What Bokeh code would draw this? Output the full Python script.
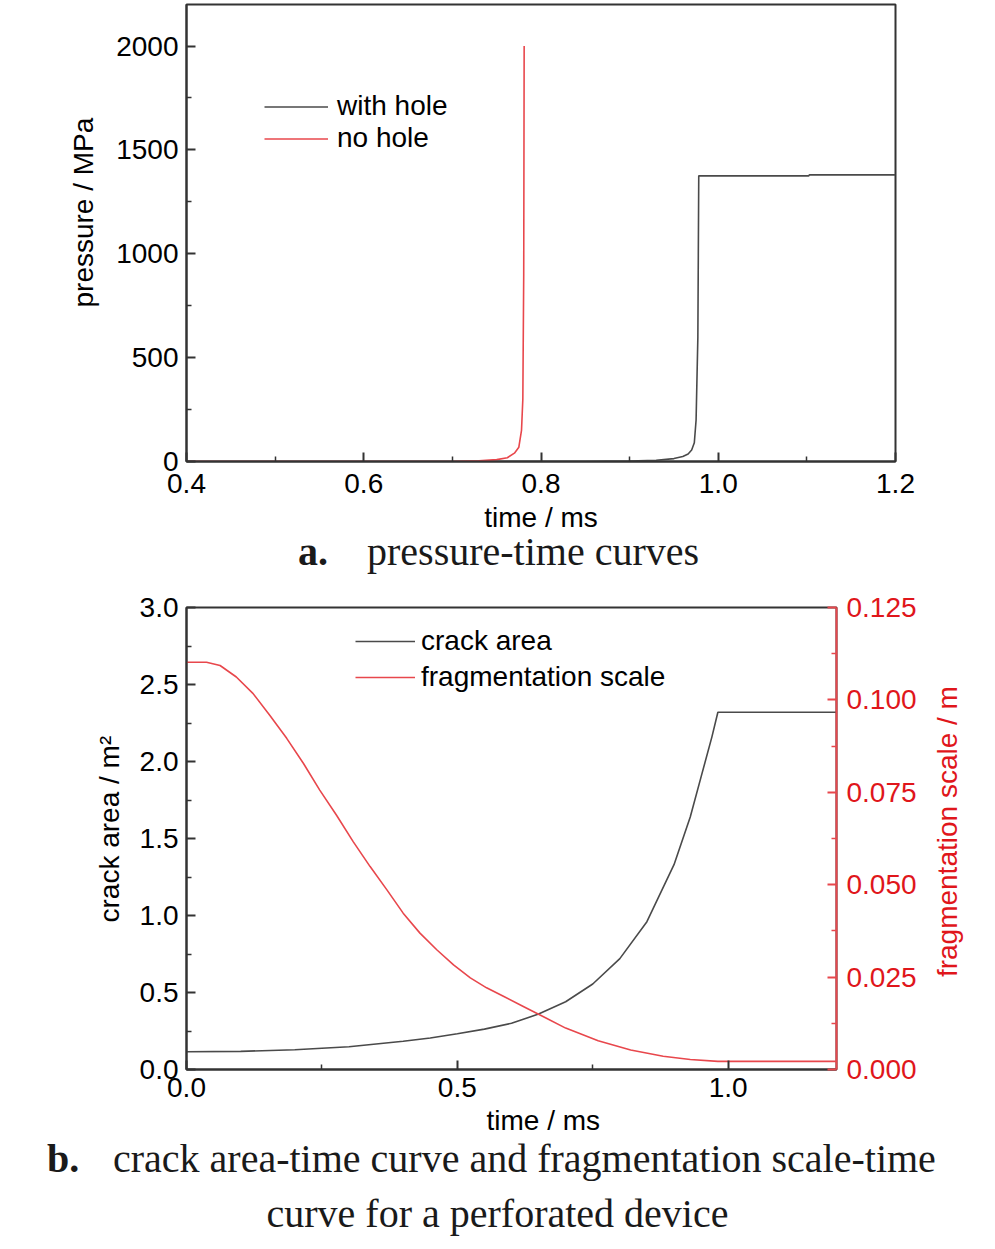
import math
from bokeh.plotting import figure
from bokeh.models import (Range1d, LinearAxis, Legend, LegendItem, Title, Div,
                          FixedTicker, NumeralTickFormatter)
from bokeh.embed import file_html
from bokeh.resources import INLINE

# ---------------- data: chart a (pressure-time) ----------------
t_with = [0.40, 0.85, 0.90, 0.93, 0.95, 0.96, 0.966, 0.970, 0.973, 0.975,
          0.977, 0.978, 1.102, 1.103, 1.20]
p_with = [0, 0, 2, 6, 14, 24, 36, 55, 90, 200, 600, 1375, 1375, 1380, 1380]

t_no = [0.40, 0.70, 0.73, 0.75, 0.762, 0.770, 0.775, 0.778, 0.7795, 0.7805, 0.781]
p_no = [0, 0, 3, 9, 18, 40, 69, 150, 300, 900, 2000]

a_xticks = [0.4, 0.6, 0.8, 1.0, 1.2]
a_xminor = [0.5, 0.7, 0.9, 1.1]
a_yticks = [0, 500, 1000, 1500, 2000]
a_yminor = [250, 750, 1250, 1750]

# ---------------- data: chart b (crack area / fragmentation) ----------------
t_crack = [0, 0.1, 0.2, 0.3, 0.4, 0.45, 0.5, 0.55, 0.6, 0.65, 0.7, 0.75, 0.8,
           0.85, 0.9, 0.93, 0.95, 0.97, 0.981, 1.2]
a_crack = [0.115, 0.118, 0.128, 0.148, 0.183, 0.205, 0.232, 0.262, 0.30, 0.36,
           0.44, 0.555, 0.72, 0.96, 1.33, 1.64, 1.90, 2.16, 2.32, 2.32]

t_frag = [0, 0.037, 0.062, 0.092, 0.123, 0.154, 0.185, 0.216, 0.246, 0.277,
          0.308, 0.339, 0.370, 0.400, 0.431, 0.462, 0.493, 0.524, 0.554, 0.585,
          0.62, 0.66, 0.70, 0.76, 0.82, 0.88, 0.93, 0.981, 1.2]
f_frag = [0.1102, 0.1102, 0.1093, 0.1062, 0.1017, 0.0958, 0.0896, 0.0828,
          0.0756, 0.0688, 0.0616, 0.0549, 0.0486, 0.0423, 0.0369, 0.0324,
          0.0283, 0.0248, 0.0221, 0.0198, 0.0172, 0.0142, 0.0112, 0.0078,
          0.0053, 0.0036, 0.0027, 0.0022, 0.0022]

b_xticks = [0.0, 0.5, 1.0]
b_xminor = [0.25, 0.75]
b_yticks = [0.0, 0.5, 1.0, 1.5, 2.0, 2.5, 3.0]
b_yminor = [0.25, 0.75, 1.25, 1.75, 2.25, 2.75]
b_rticks = [0.0, 0.025, 0.05, 0.075, 0.1, 0.125]
b_rminor = [0.0125, 0.0375, 0.0625, 0.0875, 0.1125]
r_title_tick = 0.025   # where the right-hand title text begins

FONT = "Liberation Sans"
FS = "28px"
DARK = "#333333"
GRAYLINE = "#4a4a4a"
REDLINE = "#e8474c"
REDTEXT = "#e0161b"


def style_axis(ax, color=DARK, label_color="black", standoff=8):
    ax.axis_line_color = color
    ax.axis_line_width = 2
    ax.major_tick_line_color = color
    ax.minor_tick_line_color = color
    ax.major_tick_line_width = 2
    ax.minor_tick_line_width = 1.5
    ax.major_tick_in = 9
    ax.major_tick_out = 0
    ax.minor_tick_in = 5
    ax.minor_tick_out = 0
    ax.major_label_text_font = FONT
    ax.major_label_text_font_size = FS
    ax.major_label_text_color = label_color
    ax.major_label_standoff = standoff
    ax.axis_label_text_font = FONT
    ax.axis_label_text_font_size = FS
    ax.axis_label_text_font_style = "normal"
    ax.axis_label_text_color = "black"


def make_title(text, align, offset, standoff, valign, color="black"):
    t = Title(text=text, align=align, offset=offset, vertical_align=valign,
              text_font=FONT, text_font_size=FS, text_font_style="normal",
              text_color=color)
    try:
        t.standoff = standoff
    except Exception:
        t.standoff = 0
    return t


# ---------------- figure a ----------------
pa = figure(width=995, height=536, output_backend="svg", toolbar_location=None,
            x_range=Range1d(0.4, 1.2), y_range=Range1d(0, 2200),
            min_border_left=186, min_border_right=100, min_border_top=4,
            min_border_bottom=75)
pa.grid.visible = False
pa.outline_line_color = DARK
pa.outline_line_width = 2
pa.background_fill_color = "white"
pa.border_fill_color = "white"

ra1 = pa.line(t_with, p_with, line_color=GRAYLINE, line_width=1.6)
ra2 = pa.line(t_no, p_no, line_color=REDLINE, line_width=1.6)

pa.xaxis.ticker = FixedTicker(ticks=a_xticks, minor_ticks=a_xminor)
pa.xaxis.formatter = NumeralTickFormatter(format="0.0")
pa.yaxis.ticker = FixedTicker(ticks=a_yticks, minor_ticks=a_yminor)
pa.yaxis.formatter = NumeralTickFormatter(format="0")
style_axis(pa.xaxis[0], standoff=12)
style_axis(pa.yaxis[0], standoff=8)
pa.xaxis.axis_label = "time / ms"
pa.xaxis.axis_label_standoff = 6

pa.add_layout(make_title("pressure / MPa", "left", 154, 30, "bottom"), "left")

leg_a = Legend(items=[LegendItem(label="with hole", renderers=[ra1]),
                      LegendItem(label="no hole", renderers=[ra2])],
               location=(78, 307), orientation="vertical",
               glyph_width=64, glyph_height=31, label_height=31,
               label_standoff=9, spacing=0, padding=0, margin=0,
               border_line_color=None, background_fill_alpha=0,
               label_text_font=FONT, label_text_font_size=FS,
               label_text_color="black")
pa.add_layout(leg_a, "center")

cap_style = "font-family:'Liberation Serif',serif;font-size:40px;color:#1a1a1a;white-space:nowrap;"
cap_a = Div(width=995, height=54, margin=0, text=(
    f'<div style="position:relative;width:995px;height:54px;{cap_style}line-height:31px;">'
    '<span style="position:absolute;left:298px;top:0px;font-weight:bold;">a.</span>'
    '<span style="position:absolute;left:367px;top:0px;">pressure-time curves</span>'
    '</div>'))

# ---------------- figure b ----------------
pb = figure(width=995, height=552, output_backend="svg", toolbar_location=None,
            x_range=Range1d(0, 1.2), y_range=Range1d(0, 3.0),
            min_border_left=186, min_border_right=159, min_border_top=17,
            min_border_bottom=72)
pb.grid.visible = False
pb.outline_line_color = DARK
pb.outline_line_width = 2
pb.background_fill_color = "white"
pb.border_fill_color = "white"
pb.extra_y_ranges = {"frag": Range1d(0, 0.125)}

rb1 = pb.line(t_crack, a_crack, line_color=GRAYLINE, line_width=1.6)
rb2 = pb.line(t_frag, f_frag, line_color=REDLINE, line_width=1.6, y_range_name="frag")

pb.xaxis.ticker = FixedTicker(ticks=b_xticks, minor_ticks=b_xminor)
pb.xaxis.formatter = NumeralTickFormatter(format="0.0")
pb.yaxis.ticker = FixedTicker(ticks=b_yticks, minor_ticks=b_yminor)
pb.yaxis.formatter = NumeralTickFormatter(format="0.0")
style_axis(pb.xaxis[0], standoff=8)
style_axis(pb.yaxis[0], standoff=8)

pb.add_layout(make_title("crack area / m²", "left", 147, 24, "bottom"), "left")

raxis = LinearAxis(y_range_name="frag",
                   ticker=FixedTicker(ticks=b_rticks, minor_ticks=b_rminor),
                   formatter=NumeralTickFormatter(format="0.000"))
style_axis(raxis, color=REDLINE, label_color=REDTEXT, standoff=10)
pb.add_layout(raxis, "right")

# right-hand title, drawn as a rotated label of a bare axis on the same range
rtitle = LinearAxis(y_range_name="frag", ticker=FixedTicker(ticks=[r_title_tick]),
                    major_label_overrides={r_title_tick: "fragmentation scale / m"},
                    axis_line_color=None, major_tick_line_color=None,
                    minor_tick_line_color=None, major_tick_in=0, major_tick_out=0,
                    minor_tick_in=0, minor_tick_out=0, major_label_standoff=28,
                    major_label_orientation=math.pi / 2,
                    major_label_text_font=FONT, major_label_text_font_size=FS,
                    major_label_text_color=REDTEXT)
pb.add_layout(rtitle, "right")

pb.add_layout(make_title("time / ms", "left", 300, 10, "top"), "below")

leg_b = Legend(items=[LegendItem(label="crack area", renderers=[rb1]),
                      LegendItem(label="fragmentation scale", renderers=[rb2])],
               location=(169, 374), orientation="vertical",
               glyph_width=60, glyph_height=36, label_height=36,
               label_standoff=6, spacing=0, padding=0, margin=0,
               border_line_color=None, background_fill_alpha=0,
               label_text_font=FONT, label_text_font_size=FS,
               label_text_color="black")
pb.add_layout(leg_b, "center")

cap_b = Div(width=995, height=100, margin=0, text=(
    f'<div style="position:relative;width:995px;height:100px;{cap_style}line-height:25px;">'
    '<span style="position:absolute;left:47px;top:4px;font-weight:bold;">b.</span>'
    '<span style="position:absolute;left:113px;top:4px;">crack area-time curve and fragmentation scale-time</span>'
    '<div style="position:absolute;left:0px;top:59px;width:995px;text-align:center;">curve for a perforated device</div>'
    '</div>'))

open("out.html", "w").write(file_html([pa, cap_a, pb, cap_b], INLINE))
